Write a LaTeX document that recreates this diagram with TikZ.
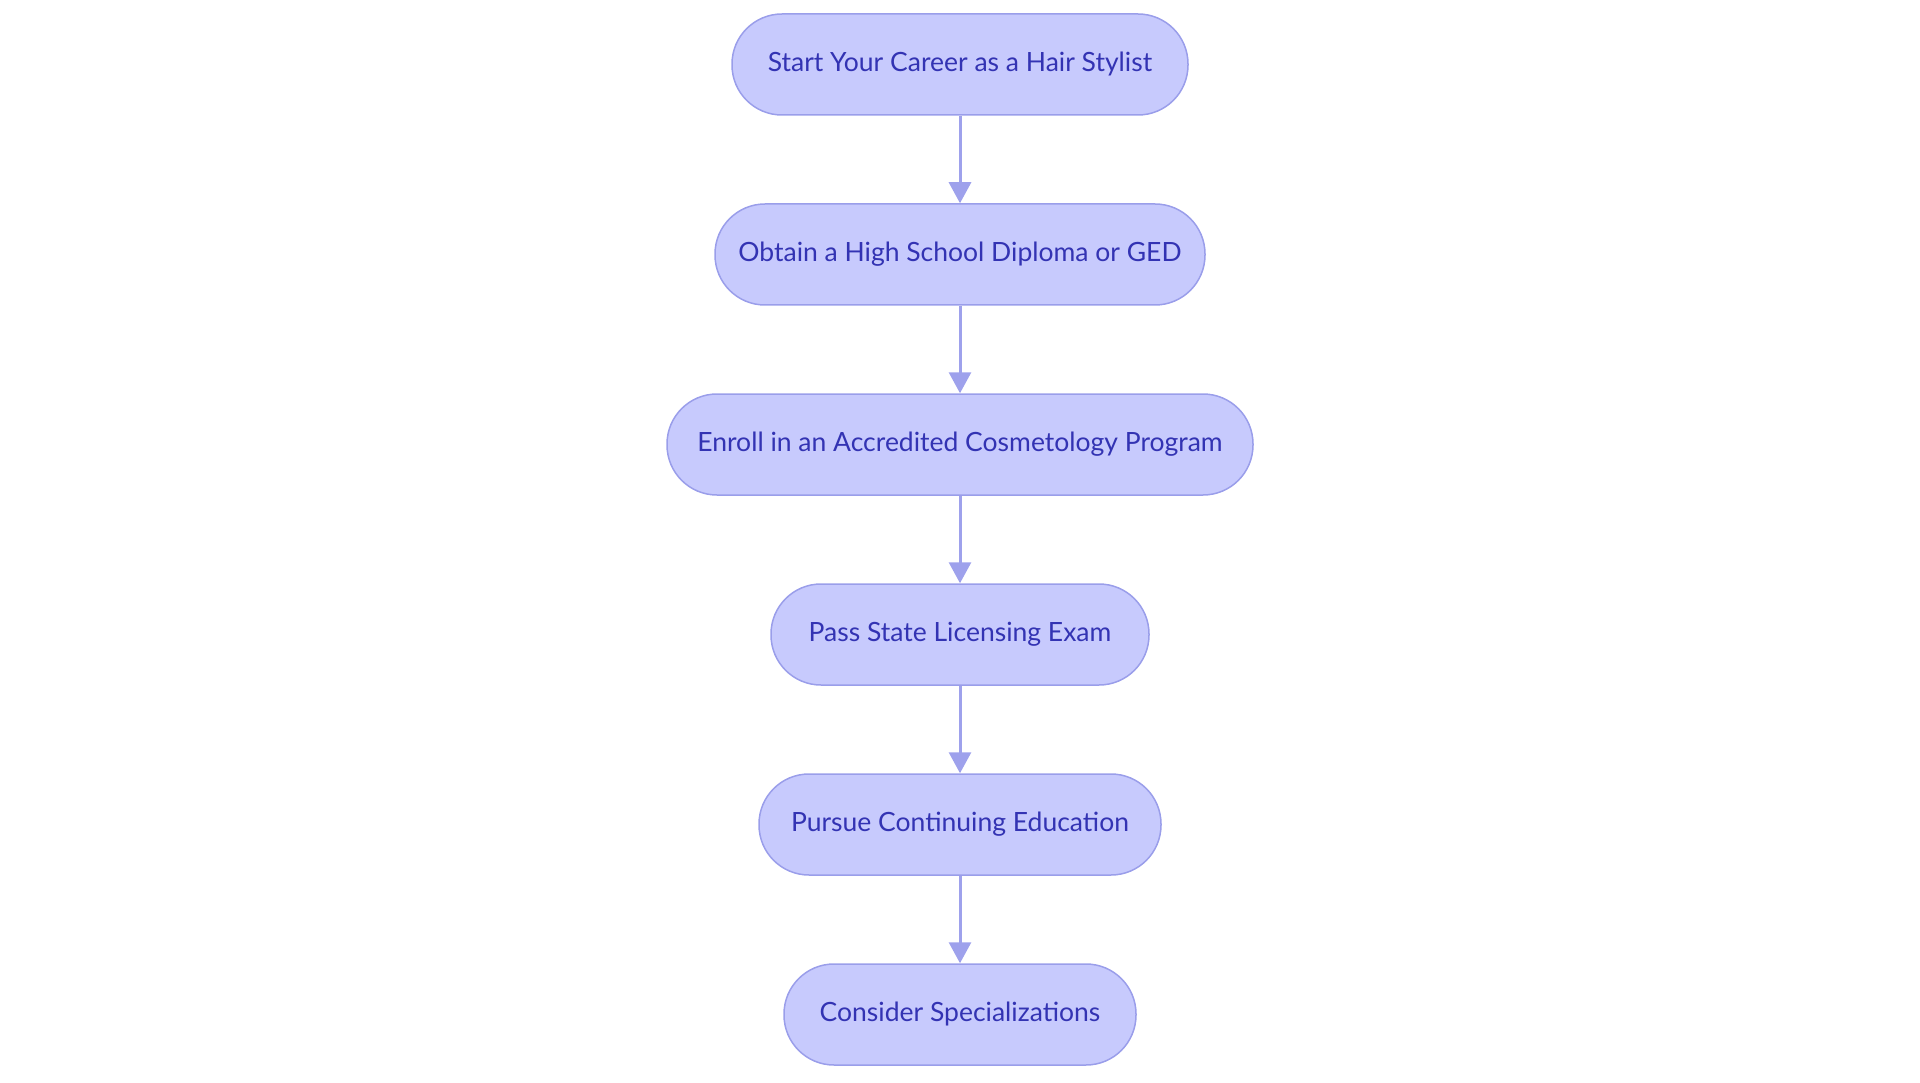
\documentclass[tikz,border=0pt]{standalone}
\usepackage{fontspec}
\setmainfont{Lato}
\usetikzlibrary{arrows.meta}
\definecolor{boxfill}{HTML}{C7CAFD}
\definecolor{boxline}{HTML}{9A9EEA}
\definecolor{arrowcol}{HTML}{9EA1EC}
\definecolor{txtcol}{HTML}{3333B3}
\tikzset{
  stepbox/.style={draw=boxline, fill=boxfill, line width=1.5pt, rounded corners=50pt,
    minimum height=101pt, inner sep=0pt, text=txtcol, font=\fontsize{26.5}{30}\selectfont},
  flow/.style={draw=arrowcol, line width=3pt, -{Triangle[width=22pt,length=21pt]}}
}
\begin{document}
\begin{tikzpicture}[x=1pt,y=-1pt]
\useasboundingbox (0,0) rectangle (1920,1083);
\node[stepbox, minimum width=456pt] (n1) at (960,64.5) {Start Your Career as a Hair Stylist};
\node[stepbox, minimum width=490pt] (n2) at (960,254.5) {Obtain a High School Diploma or GED};
\node[stepbox, minimum width=586pt] (n3) at (960,444.5) {Enroll in an Accredited Cosmetology Program};
\node[stepbox, minimum width=378pt] (n4) at (960,634.5) {Pass State Licensing Exam};
\node[stepbox, minimum width=402pt] (n5) at (960,824.5) {Pursue Continuing Education};
\node[stepbox, minimum width=352pt] (n6) at (960,1014.5) {Consider Specializations};
\draw[flow] (n1) -- (n2);
\draw[flow] (n2) -- (n3);
\draw[flow] (n3) -- (n4);
\draw[flow] (n4) -- (n5);
\draw[flow] (n5) -- (n6);
\end{tikzpicture}
\end{document}
